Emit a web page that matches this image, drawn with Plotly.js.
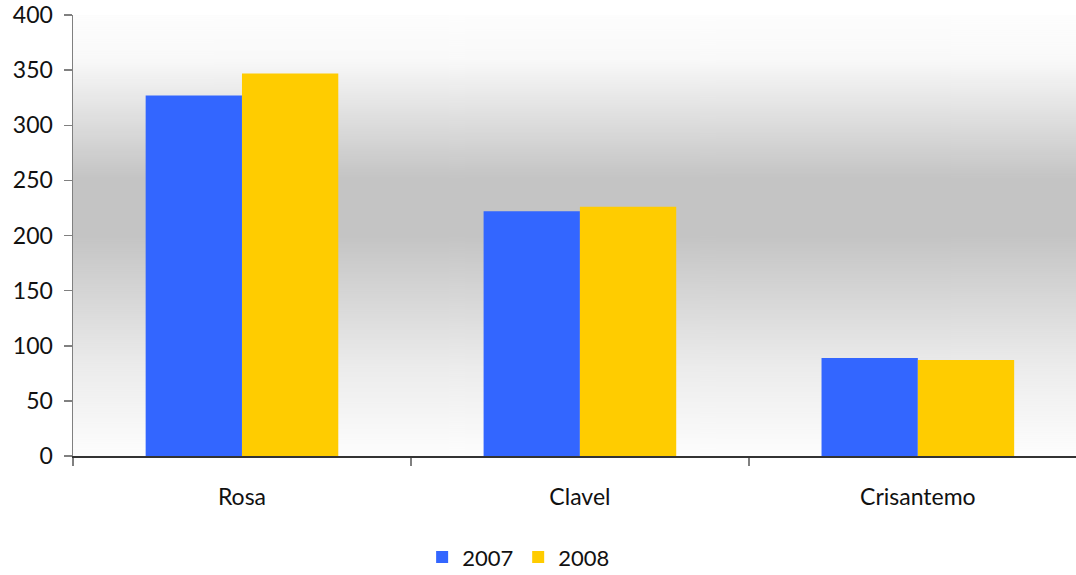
<!DOCTYPE html>
<html>
<head>
<meta charset="utf-8">
<script src="https://cdn.plot.ly/plotly-3.0.1.min.js"></script>
<style>html,body{margin:0;padding:0;background:#fff;}#chart{width:1076px;height:575px;}</style>
</head>
<body>
<div id="chart"></div>
<script>
const categories = ["Rosa", "Clavel", "Crisantemo"];
const seriesNames = ["2007", "2008"];
const values2007 = [327, 222, 89];
const values2008 = [347, 226, 87];
const seriesColors = ["#3366ff", "#ffcc00"];
const yTicks = [0, 50, 100, 150, 200, 250, 300, 350, 400];

// background gradient for the plot area
const cv = document.createElement('canvas');
cv.width = 4; cv.height = 441;
const ctx = cv.getContext('2d');
const g = ctx.createLinearGradient(0, 0, 0, 441);
g.addColorStop(0, '#fdfdfd');
g.addColorStop(0.1, '#f9f9f9');
g.addColorStop(0.37, '#c4c4c4');
g.addColorStop(0.5, '#c4c4c4');
g.addColorStop(0.8, '#ececec');
g.addColorStop(1, '#fdfdfd');
ctx.fillStyle = g; ctx.fillRect(0, 0, 4, 441);
const bgUrl = cv.toDataURL('image/png');

const font = {family: 'Lato, "Open Sans", sans-serif', size: 23, color: '#111'};
const legendFont = {family: 'Lato, "Open Sans", sans-serif', size: 22, color: '#111'};

const data = [
  {type: 'bar', name: seriesNames[0], x: categories, y: values2007, marker: {color: seriesColors[0]}},
  {type: 'bar', name: seriesNames[1], x: categories, y: values2008, marker: {color: seriesColors[1]}}
];

const layout = {
  width: 1076, height: 575,
  margin: {l: 73, r: 0, t: 15, b: 119, autoexpand: false},
  paper_bgcolor: '#ffffff',
  plot_bgcolor: 'rgba(0,0,0,0)',
  font: font,
  barmode: 'group',
  bargap: 0.43,
  bargroupgap: 0,
  showlegend: true,
  legend: {orientation: 'h', xref: 'container', yref: 'container', x: 0.482, xanchor: 'center', y: 0.031, yanchor: 'middle', font: legendFont, bgcolor: 'rgba(0,0,0,0)', itemwidth: 30},
  xaxis: {
    type: 'category', range: [-0.5, 2.468],
    showgrid: false, zeroline: false,
    showline: true, linecolor: '#333333', linewidth: 1.5,
    ticks: 'outside', tickson: 'boundaries', ticklen: 8, tickcolor: '#808080', tickwidth: 1.5,
    tickfont: font, ticklabelstandoff: 20
  },
  yaxis: {
    range: [0, 400], tickvals: yTicks,
    showgrid: false, zeroline: false,
    showline: true, linecolor: '#808080', linewidth: 1.5,
    ticks: 'outside', ticklen: 8, tickcolor: '#808080', tickwidth: 1.5,
    tickfont: font, ticklabelstandoff: 6
  },
  images: [{source: bgUrl, xref: 'paper', yref: 'paper', x: 0, y: 1, sizex: 1, sizey: 1, sizing: 'stretch', layer: 'below'}]
};

Plotly.newPlot('chart', data, layout, {displayModeBar: false, staticPlot: true});
</script>
</body>
</html>
